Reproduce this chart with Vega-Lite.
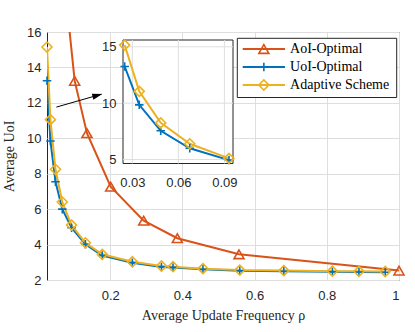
{
  "$schema": "https://vega.github.io/schema/vega-lite/v6.json",
  "width": 352,
  "height": 248,
  "autosize": "none",
  "padding": {"left": 47, "top": 32, "right": 16, "bottom": 52},
  "background": "white",
  "config": {
    "view": {"stroke": "#262626", "strokeWidth": 1},
    "legend": {"disable": true},
    "axis": {
      "labelFont": "Liberation Sans",
      "labelFontSize": 13,
      "labelColor": "#262626",
      "titleFont": "Liberation Serif",
      "titleFontSize": 14,
      "titleFontWeight": "normal",
      "titleColor": "#262626",
      "gridColor": "#dedede",
      "gridOpacity": 1,
      "domain": false,
      "ticks": false
    }
  },
  "datasets": {
    "curves": [
      {"series": "AoI-Optimal", "x": 0.0674, "y": 20.0},
      {"series": "AoI-Optimal", "x": 0.1017, "y": 13.24},
      {"series": "AoI-Optimal", "x": 0.1357, "y": 10.29},
      {"series": "AoI-Optimal", "x": 0.2014, "y": 7.27},
      {"series": "AoI-Optimal", "x": 0.2928, "y": 5.35},
      {"series": "AoI-Optimal", "x": 0.386, "y": 4.36},
      {"series": "AoI-Optimal", "x": 0.5568, "y": 3.45},
      {"series": "AoI-Optimal", "x": 1.0, "y": 2.53},
      {"series": "UoI-Optimal", "x": 0.025, "y": 13.25},
      {"series": "UoI-Optimal", "x": 0.0345, "y": 9.85},
      {"series": "UoI-Optimal", "x": 0.0485, "y": 7.55},
      {"series": "UoI-Optimal", "x": 0.0674, "y": 6.0},
      {"series": "UoI-Optimal", "x": 0.093, "y": 4.95},
      {"series": "UoI-Optimal", "x": 0.1313, "y": 4.02},
      {"series": "UoI-Optimal", "x": 0.178, "y": 3.38},
      {"series": "UoI-Optimal", "x": 0.2615, "y": 2.97},
      {"series": "UoI-Optimal", "x": 0.342, "y": 2.74},
      {"series": "UoI-Optimal", "x": 0.374, "y": 2.71},
      {"series": "UoI-Optimal", "x": 0.457, "y": 2.6},
      {"series": "UoI-Optimal", "x": 0.559, "y": 2.52},
      {"series": "UoI-Optimal", "x": 0.681, "y": 2.49},
      {"series": "UoI-Optimal", "x": 0.8155, "y": 2.46},
      {"series": "UoI-Optimal", "x": 0.889, "y": 2.45},
      {"series": "UoI-Optimal", "x": 0.962, "y": 2.44},
      {"series": "Adaptive Scheme", "x": 0.025, "y": 15.15},
      {"series": "Adaptive Scheme", "x": 0.0345, "y": 11.05},
      {"series": "Adaptive Scheme", "x": 0.0485, "y": 8.25},
      {"series": "Adaptive Scheme", "x": 0.0674, "y": 6.4},
      {"series": "Adaptive Scheme", "x": 0.093, "y": 5.1},
      {"series": "Adaptive Scheme", "x": 0.1313, "y": 4.1},
      {"series": "Adaptive Scheme", "x": 0.178, "y": 3.45},
      {"series": "Adaptive Scheme", "x": 0.2615, "y": 3.03},
      {"series": "Adaptive Scheme", "x": 0.342, "y": 2.79},
      {"series": "Adaptive Scheme", "x": 0.374, "y": 2.75},
      {"series": "Adaptive Scheme", "x": 0.457, "y": 2.64},
      {"series": "Adaptive Scheme", "x": 0.559, "y": 2.56},
      {"series": "Adaptive Scheme", "x": 0.681, "y": 2.53},
      {"series": "Adaptive Scheme", "x": 0.8155, "y": 2.5},
      {"series": "Adaptive Scheme", "x": 0.889, "y": 2.49},
      {"series": "Adaptive Scheme", "x": 0.962, "y": 2.48}
    ],
    "entries": [
      {"series": "AoI-Optimal"},
      {"series": "UoI-Optimal"},
      {"series": "Adaptive Scheme"}
    ]
  },
  "data": {"name": "curves"},
  "layer": [
    {
      "encoding": {
        "x": {
          "field": "x", "type": "quantitative",
          "scale": {"domain": [0.025, 1], "nice": false, "zero": false},
          "axis": {"orient": "bottom", "values": [0.2, 0.4, 0.6, 0.8, 1], "format": "~g", "grid": true, "labelPadding": 9, "titlePadding": 6, "title": "Average Update Frequency ρ", "zindex": 0}
        },
        "y": {
          "field": "y", "type": "quantitative",
          "scale": {"domain": [2, 16], "nice": false, "zero": false},
          "axis": {"orient": "left", "values": [2, 4, 6, 8, 10, 12, 14, 16], "grid": true, "labelPadding": 6, "titlePadding": 10, "title": "Average UoI", "zindex": 0}
        },
        "color": {"field": "series", "type": "nominal",
          "scale": {"domain": ["AoI-Optimal", "UoI-Optimal", "Adaptive Scheme"], "range": ["#D95319", "#0072BD", "#EDB120"]}}
      },
      "layer": [
        {
          "mark": {"type": "line", "strokeWidth": 2, "clip": true}
        },
        {
          "transform": [{"filter": "datum.y <= 16"}],
          "mark": {"type": "point", "filled": false, "strokeWidth": 1.6, "size": 100, "opacity": 1},
          "encoding": {
            "shape": {"field": "series", "type": "nominal",
              "scale": {"domain": ["AoI-Optimal", "UoI-Optimal", "Adaptive Scheme"], "range": ["triangle-up", "M-0.85,0H0.85M0,-0.85V0.85", "diamond"]}}
          }
        }
      ]
    },
    {
      "data": {"values": [{}]},
      "layer": [
        {
          "mark": {"type": "rule", "color": "black", "strokeWidth": 1},
          "encoding": {
            "x": {"datum": 0.051, "type": "quantitative", "scale": {"domain": [0.025, 1], "range": [0, 352], "nice": false, "zero": false}, "axis": null},
            "y": {"datum": 11.76, "type": "quantitative", "scale": {"domain": [2, 16], "range": [248, 0], "nice": false, "zero": false}, "axis": null},
            "x2": {"datum": 0.176}, "y2": {"datum": 12.49}
          }
        },
        {
          "mark": {"type": "point", "filled": true, "color": "black", "opacity": 1, "size": 100, "angle": 344, "shape": "M0,0L-2,-0.6L-2,0.6Z"},
          "encoding": {
            "x": {"datum": 0.178, "type": "quantitative", "scale": {"domain": [0.025, 1], "range": [0, 352], "nice": false, "zero": false}, "axis": null},
            "y": {"datum": 12.5, "type": "quantitative", "scale": {"domain": [2, 16], "range": [248, 0], "nice": false, "zero": false}, "axis": null}
          }
        },
        {
          "mark": {"type": "rect", "fill": "#ffffff", "stroke": "#262626", "strokeWidth": 1, "opacity": 1},
          "encoding": {
            "x": {"datum": 0.0239, "type": "quantitative", "scale": {"domain": [0.0239, 0.0956], "range": [76, 186], "nice": false, "zero": false}, "axis": null},
            "x2": {"datum": 0.0956},
            "y": {"datum": 4.65, "type": "quantitative", "scale": {"domain": [4.65, 15.6], "range": [131.5, 8], "nice": false, "zero": false}, "axis": null},
            "y2": {"datum": 15.6}
          }
        },
        {
          "mark": {"type": "rule", "color": "#dedede", "strokeWidth": 1},
          "encoding": {
            "x": {"datum": 0.03, "type": "quantitative", "scale": {"domain": [0.0239, 0.0956], "range": [76, 186], "nice": false, "zero": false}, "axis": null},
            "y": {"datum": 4.65, "type": "quantitative", "scale": {"domain": [4.65, 15.6], "range": [131.5, 8], "nice": false, "zero": false}, "axis": null},
            "y2": {"datum": 15.6}
          }
        },
        {
          "mark": {"type": "rule", "color": "#dedede", "strokeWidth": 1},
          "encoding": {
            "x": {"datum": 0.06, "type": "quantitative", "scale": {"domain": [0.0239, 0.0956], "range": [76, 186], "nice": false, "zero": false}, "axis": null},
            "y": {"datum": 4.65, "type": "quantitative", "scale": {"domain": [4.65, 15.6], "range": [131.5, 8], "nice": false, "zero": false}, "axis": null},
            "y2": {"datum": 15.6}
          }
        },
        {
          "mark": {"type": "rule", "color": "#dedede", "strokeWidth": 1},
          "encoding": {
            "x": {"datum": 0.09, "type": "quantitative", "scale": {"domain": [0.0239, 0.0956], "range": [76, 186], "nice": false, "zero": false}, "axis": null},
            "y": {"datum": 4.65, "type": "quantitative", "scale": {"domain": [4.65, 15.6], "range": [131.5, 8], "nice": false, "zero": false}, "axis": null},
            "y2": {"datum": 15.6}
          }
        },
        {
          "mark": {"type": "rule", "color": "#dedede", "strokeWidth": 1},
          "encoding": {
            "y": {"datum": 5, "type": "quantitative", "scale": {"domain": [4.65, 15.6], "range": [131.5, 8], "nice": false, "zero": false}, "axis": null},
            "x": {"datum": 0.0239, "type": "quantitative", "scale": {"domain": [0.0239, 0.0956], "range": [76, 186], "nice": false, "zero": false}, "axis": null},
            "x2": {"datum": 0.0956}
          }
        },
        {
          "mark": {"type": "rule", "color": "#dedede", "strokeWidth": 1},
          "encoding": {
            "y": {"datum": 10, "type": "quantitative", "scale": {"domain": [4.65, 15.6], "range": [131.5, 8], "nice": false, "zero": false}, "axis": null},
            "x": {"datum": 0.0239, "type": "quantitative", "scale": {"domain": [0.0239, 0.0956], "range": [76, 186], "nice": false, "zero": false}, "axis": null},
            "x2": {"datum": 0.0956}
          }
        },
        {
          "mark": {"type": "rule", "color": "#dedede", "strokeWidth": 1},
          "encoding": {
            "y": {"datum": 15, "type": "quantitative", "scale": {"domain": [4.65, 15.6], "range": [131.5, 8], "nice": false, "zero": false}, "axis": null},
            "x": {"datum": 0.0239, "type": "quantitative", "scale": {"domain": [0.0239, 0.0956], "range": [76, 186], "nice": false, "zero": false}, "axis": null},
            "x2": {"datum": 0.0956}
          }
        },
        {
          "mark": {"type": "rect", "fill": "#ffffff", "stroke": "#262626", "strokeWidth": 1, "opacity": 1},
          "encoding": {
            "x": {"datum": 0, "type": "quantitative", "scale": {"domain": [0, 1], "range": [190.3, 349.7], "nice": false, "zero": false}, "axis": null},
            "x2": {"datum": 1},
            "y": {"datum": 0, "type": "quantitative", "scale": {"domain": [0, 1], "range": [6.3, 65.5], "nice": false, "zero": false}, "axis": null},
            "y2": {"datum": 1}
          }
        }
      ],
      "resolve": {"scale": {"x": "independent", "y": "independent"}}
    },
    {
      "transform": [{"filter": "datum.series !== 'AoI-Optimal' && datum.x < 0.1"}],
      "encoding": {
        "x": {
          "field": "x", "type": "quantitative",
          "scale": {"domain": [0.0239, 0.0956], "range": [76, 186], "nice": false, "zero": false},
          "axis": {"orient": "bottom", "offset": -116.5, "values": [0.03, 0.06, 0.09], "format": "~g", "grid": false, "labelPadding": 13, "title": null, "zindex": 1}
        },
        "y": {
          "field": "y", "type": "quantitative",
          "scale": {"domain": [4.65, 15.6], "range": [131.5, 8], "nice": false, "zero": false},
          "axis": {"orient": "left", "offset": -76, "values": [5, 10, 15], "grid": false, "labelPadding": 7, "title": null, "zindex": 1}
        },
        "color": {"field": "series", "type": "nominal",
          "scale": {"domain": ["AoI-Optimal", "UoI-Optimal", "Adaptive Scheme"], "range": ["#D95319", "#0072BD", "#EDB120"]}}
      },
      "layer": [
        {
          "mark": {"type": "line", "strokeWidth": 2}
        },
        {
          "mark": {"type": "point", "filled": false, "strokeWidth": 1.6, "size": 100, "opacity": 1},
          "encoding": {
            "shape": {"field": "series", "type": "nominal",
              "scale": {"domain": ["AoI-Optimal", "UoI-Optimal", "Adaptive Scheme"], "range": ["triangle-up", "M-0.85,0H0.85M0,-0.85V0.85", "diamond"]}}
          }
        }
      ]
    },
    {
      "data": {"name": "entries"},
      "encoding": {
        "y": {"field": "series", "type": "nominal", "sort": null,
          "scale": {"type": "point", "domain": ["AoI-Optimal", "UoI-Optimal", "Adaptive Scheme"], "range": [17, 53], "padding": 0}, "axis": null}
      },
      "layer": [
        {
          "mark": {"type": "rule", "strokeWidth": 2},
          "encoding": {
            "x": {"datum": 0, "type": "quantitative", "scale": {"domain": [0, 1], "range": [195.7, 238], "nice": false, "zero": false}, "axis": null},
            "x2": {"datum": 1},
            "color": {"field": "series", "type": "nominal",
              "scale": {"domain": ["AoI-Optimal", "UoI-Optimal", "Adaptive Scheme"], "range": ["#D95319", "#0072BD", "#EDB120"]}}
          }
        },
        {
          "mark": {"type": "point", "filled": false, "strokeWidth": 1.6, "size": 100, "opacity": 1},
          "encoding": {
            "x": {"datum": 0.5, "type": "quantitative"},
            "color": {"field": "series", "type": "nominal",
              "scale": {"domain": ["AoI-Optimal", "UoI-Optimal", "Adaptive Scheme"], "range": ["#D95319", "#0072BD", "#EDB120"]}},
            "shape": {"field": "series", "type": "nominal",
              "scale": {"domain": ["AoI-Optimal", "UoI-Optimal", "Adaptive Scheme"], "range": ["triangle-up", "M-0.85,0H0.85M0,-0.85V0.85", "diamond"]}}
          }
        },
        {
          "mark": {"type": "text", "align": "left", "baseline": "middle", "font": "Liberation Serif", "fontSize": 14, "color": "black"},
          "encoding": {
            "x": {"datum": 1.12, "type": "quantitative"},
            "text": {"field": "series"}
          }
        }
      ]
    }
  ],
  "resolve": {"scale": {"x": "independent", "y": "independent"}}
}
